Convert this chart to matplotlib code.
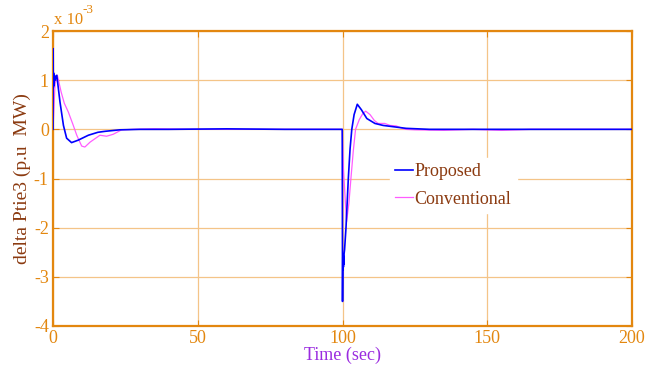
import numpy as np
import matplotlib.pyplot as plt

plt.rcParams['font.family'] = ['Liberation Serif', 'DejaVu Serif']
plt.rcParams['axes.unicode_minus'] = False

# tie-line power deviation (x 1e-3 p.u. MW)
t_prop = [0, 0.05, 0.1, 0.15, 0.2, 0.3, 0.4, 0.5, 0.7, 1.3, 2.4, 3.6, 4.7, 6.4, 8.7,
          12.2, 15.5, 18, 23, 30, 40, 60, 80, 99.9,
          100.0, 100.1, 100.2, 100.25, 100.3, 100.35, 100.4, 100.5, 100.7, 101.2, 102.0, 102.6,
          103.2, 104.0, 105.1, 106.5, 108.4, 111.2, 114, 118, 122, 130, 150, 200]
p_prop = [0, 1.64, 0.85, 1.15, 0.88, 1.12, 0.9, 1.1, 1.0, 1.1, 0.56, 0.08, -0.18, -0.27, -0.22,
          -0.12, -0.06, -0.04, -0.01, 0, 0, 0.01, 0, 0,
          -3.5, -2.6, -2.85, -2.55, -2.8, -2.6, -2.75, -2.55, -2.45, -2.0, -1.0, -0.4,
          0.0, 0.3, 0.51, 0.4, 0.22, 0.12, 0.08, 0.05, 0.02, 0.0, 0.0, 0.0]

t_conv = [0, 0.7, 1.5, 2.8, 3.9, 5.3, 7.0, 8.2, 9.9, 11, 12.8, 14.5, 16.2, 18.5, 20.8,
          23.7, 28, 35, 50, 70, 99.9,
          100.3, 101.4, 102.2, 102.9, 103.7, 104.5, 105.8, 107, 108, 109.5, 111, 112.3,
          114.6, 116.4, 118.5, 121.6, 125, 135, 145, 155, 165, 180, 200]
p_conv = [0, 0.93, 1.1, 0.76, 0.53, 0.35, 0.08, -0.12, -0.34, -0.36, -0.26, -0.19, -0.12, -0.14, -0.1,
          -0.01, 0.0, 0.01, 0.0, 0.0, 0.0,
          -0.8, -1.88, -1.5, -1.0, -0.45, 0.0, 0.2, 0.32, 0.37, 0.3, 0.18, 0.12,
          0.12, 0.08, 0.07, 0.0, -0.01, -0.02, 0.0, -0.02, 0.0, 0.0, 0.0]

orange = '#E3870F'
grid_c = '#F4C488'

fig = plt.figure(figsize=(6.57, 3.71), dpi=100)
ax = fig.add_axes([0.0807, 0.1213, 0.8813, 0.7951])

ax.plot(t_prop, p_prop, color='#0000FF', lw=1.2, label='Proposed', zorder=3)
ax.plot(t_conv, p_conv, color='#FF5CFF', lw=0.9, label='Conventional', zorder=2)

ax.set_xlim(0, 200)
ax.set_ylim(-4, 2)
ax.set_xticks([0, 50, 100, 150, 200])
ax.set_yticks([-4, -3, -2, -1, 0, 1, 2])
ax.grid(True, color=grid_c, lw=0.9)
ax.set_axisbelow(True)

for s in ax.spines.values():
    s.set_color(orange)
    s.set_linewidth(1.6)
ax.tick_params(direction='in', length=4, color=orange, labelcolor=orange,
               labelsize=13, top=True, right=True, pad=3)

# exponent label above the y axis
ax.annotate('x 10', xy=(0, 1), xycoords='axes fraction', xytext=(0.5, 2),
            textcoords='offset points', color=orange, fontsize=12,
            ha='left', va='bottom')
ax.annotate('-3', xy=(0, 1), xycoords='axes fraction', xytext=(21.5, 11),
            textcoords='offset points', color=orange, fontsize=9.5,
            ha='left', va='bottom')

ax.set_xlabel('Time (sec)', color='#9A2BE0', fontsize=13, labelpad=0)
ax.set_ylabel('delta Ptie3 (p.u  MW)', color='#8B3A10', fontsize=14, labelpad=2)

leg = ax.legend(loc='upper left', bbox_to_anchor=(0.582, 0.571), fontsize=13,
                frameon=True, fancybox=False, edgecolor='white', facecolor='white',
                framealpha=1, handlelength=0.95, handletextpad=0.1,
                borderpad=0.3, labelspacing=0.6, borderaxespad=0)
for txt in leg.get_texts():
    txt.set_color('#8B3A10')

fig.savefig('out.png', dpi=100)
